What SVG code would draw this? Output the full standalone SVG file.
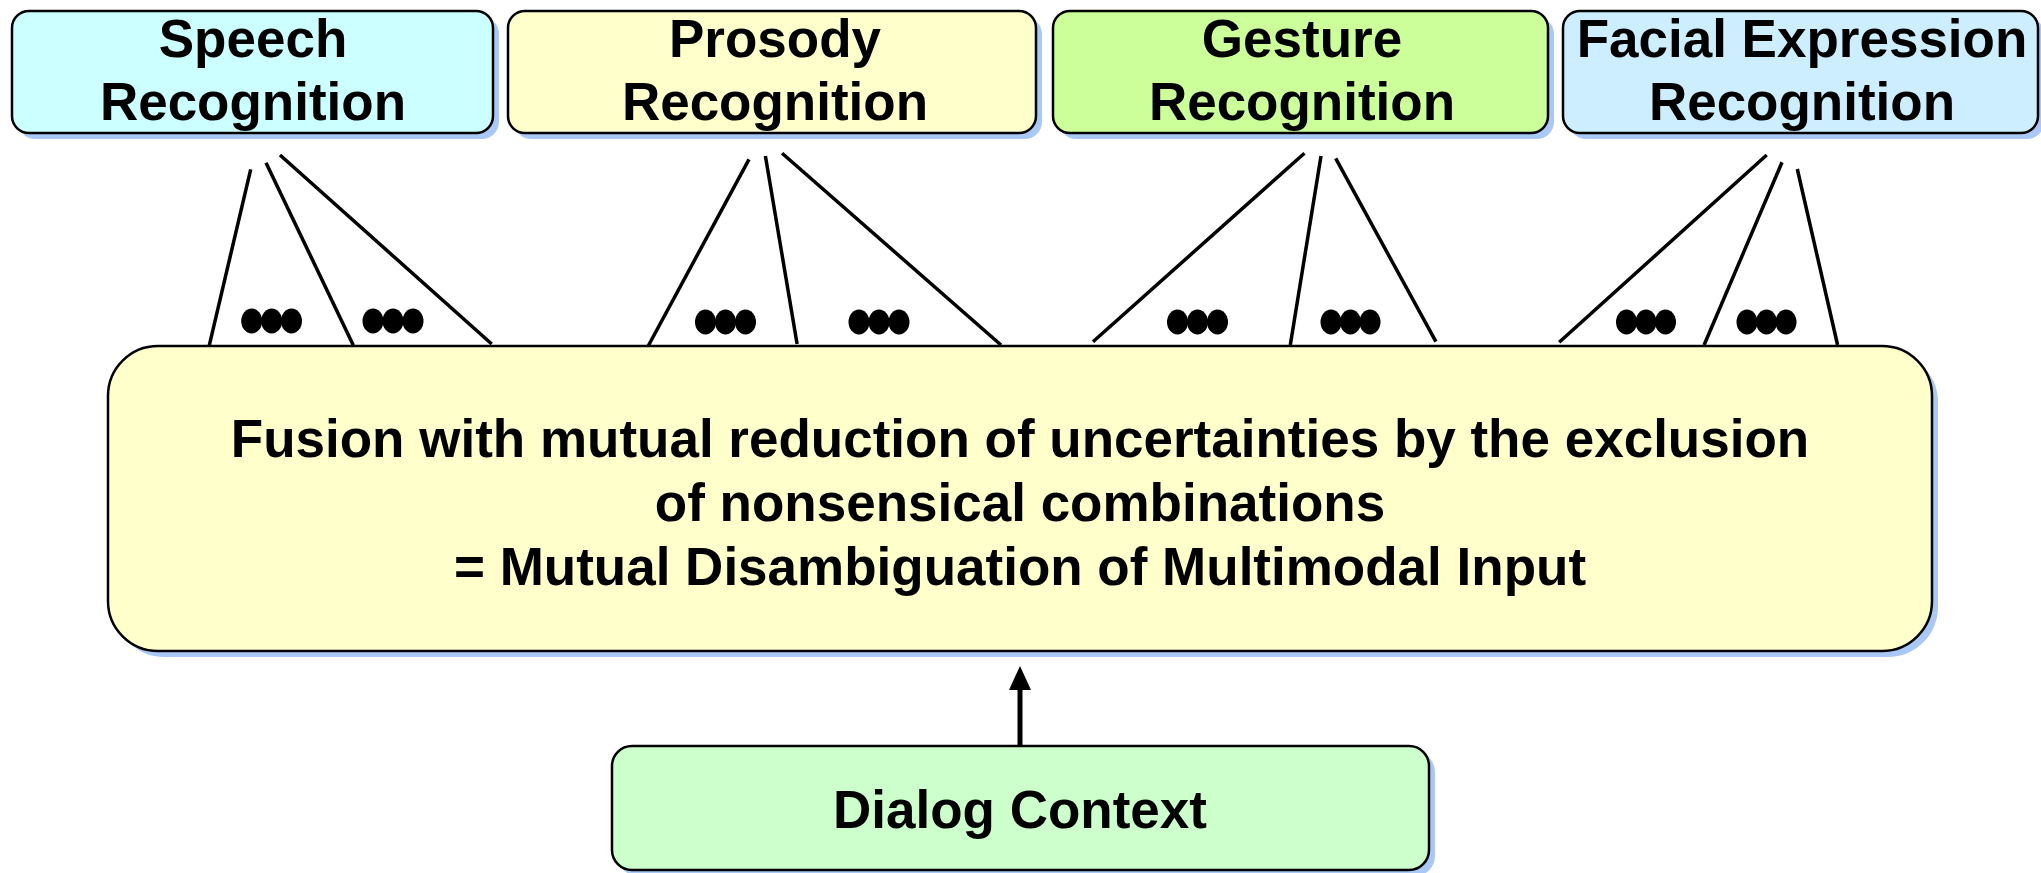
<svg xmlns="http://www.w3.org/2000/svg" width="2041" height="873" viewBox="0 0 2041 873">
<defs>
<style>
.box{stroke:#000;stroke-width:2.5}
.sh{fill:#a9c8f5}
.t{font-family:"Liberation Sans",Arial,sans-serif;font-weight:bold;font-size:53px;fill:#000;text-anchor:middle}
.fan{stroke:#000;stroke-width:3.5;fill:none}
.dot{fill:#000}
</style>
<marker id="ah" markerWidth="24" markerHeight="22" refX="1" refY="11" orient="auto" markerUnits="userSpaceOnUse" viewBox="0 0 24 22">
<path d="M0,0 L24,11 L0,22 Z" fill="#000"/>
</marker>
</defs>
<rect width="2041" height="873" fill="#fff"/>
<g id="speech">
<rect class="sh" x="18" y="17" width="481" height="122" rx="17"/>
<rect class="box" x="12" y="11" width="481" height="122" rx="17" fill="#ccffff"/>
<text class="t" x="253" y="57">Speech</text>
<text class="t" x="253" y="120">Recognition</text>
</g>
<g id="prosody">
<rect class="sh" x="514" y="17" width="528" height="122" rx="17"/>
<rect class="box" x="508" y="11" width="528" height="122" rx="17" fill="#ffffcc"/>
<text class="t" x="775" y="57">Prosody</text>
<text class="t" x="775" y="120">Recognition</text>
</g>
<g id="gesture">
<rect class="sh" x="1059" y="17" width="495" height="122" rx="17"/>
<rect class="box" x="1053" y="11" width="495" height="122" rx="17" fill="#ccff99"/>
<text class="t" x="1302" y="57">Gesture</text>
<text class="t" x="1302" y="120">Recognition</text>
</g>
<g id="facial">
<rect class="sh" x="1569" y="17" width="475" height="122" rx="17"/>
<rect class="box" x="1563" y="11" width="475" height="122" rx="17" fill="#cceeff"/>
<text class="t" x="1802" y="57">Facial Expression</text>
<text class="t" x="1802" y="120">Recognition</text>
</g>
<g id="fusion">
<rect class="sh" x="114" y="352" width="1824" height="305" rx="50"/>
<rect class="box" x="108" y="346" width="1824" height="305" rx="50" fill="#ffffcc"/>
<text class="t" x="1020" y="457">Fusion with mutual reduction of uncertainties by the exclusion</text>
<text class="t" x="1020" y="521">of nonsensical combinations</text>
<text class="t" x="1020" y="585">= Mutual Disambiguation of Multimodal Input</text>
</g>
<g id="dialog">
<rect class="sh" x="618" y="752" width="817" height="124" rx="20"/>
<rect class="box" x="612" y="746" width="817" height="124" rx="20" fill="#ccffcc"/>
<text class="t" x="1020" y="828">Dialog Context</text>
</g>
<g id="connectors">
<line class="fan" x1="250.7" y1="169.3" x2="209.3" y2="345.3"/>
<line class="fan" x1="266" y1="162.7" x2="353.3" y2="345.3"/>
<line class="fan" x1="280" y1="155" x2="491.7" y2="344"/>
<line class="fan" x1="749" y1="159.3" x2="648.2" y2="346"/>
<line class="fan" x1="765.4" y1="156" x2="797.1" y2="344"/>
<line class="fan" x1="782.1" y1="153.3" x2="1001" y2="345"/>
<line class="fan" x1="1304.4" y1="153.3" x2="1093" y2="341.7"/>
<line class="fan" x1="1321" y1="156" x2="1290.3" y2="345"/>
<line class="fan" x1="1335.7" y1="158.3" x2="1435.9" y2="341.7"/>
<line class="fan" x1="1766.7" y1="155" x2="1559.2" y2="342.3"/>
<line class="fan" x1="1782" y1="162.3" x2="1704.1" y2="345"/>
<line class="fan" x1="1797.3" y1="169" x2="1837.6" y2="345"/>
<g class="dot">
<ellipse cx="251.7" cy="321" rx="10.5" ry="12.5"/><ellipse cx="271.7" cy="321" rx="10.5" ry="12.5"/><ellipse cx="291.5" cy="321" rx="10.5" ry="12.5"/>
<ellipse cx="373" cy="321" rx="10.5" ry="12.5"/><ellipse cx="393" cy="321" rx="10.5" ry="12.5"/><ellipse cx="413" cy="321" rx="10.5" ry="12.5"/>
<ellipse cx="705.5" cy="322" rx="10.5" ry="12.5"/><ellipse cx="725.5" cy="322" rx="10.5" ry="12.5"/><ellipse cx="745.5" cy="322" rx="10.5" ry="12.5"/>
<ellipse cx="859" cy="322" rx="10.5" ry="12.5"/><ellipse cx="879" cy="322" rx="10.5" ry="12.5"/><ellipse cx="899" cy="322" rx="10.5" ry="12.5"/>
<ellipse cx="1177.5" cy="322" rx="10.5" ry="12.5"/><ellipse cx="1197.5" cy="322" rx="10.5" ry="12.5"/><ellipse cx="1217.5" cy="322" rx="10.5" ry="12.5"/>
<ellipse cx="1331" cy="322" rx="10.5" ry="12.5"/><ellipse cx="1350.5" cy="322" rx="10.5" ry="12.5"/><ellipse cx="1370" cy="322" rx="10.5" ry="12.5"/>
<ellipse cx="1626.5" cy="322" rx="10.5" ry="12.5"/><ellipse cx="1646" cy="322" rx="10.5" ry="12.5"/><ellipse cx="1665.5" cy="322" rx="10.5" ry="12.5"/>
<ellipse cx="1747" cy="322" rx="10.5" ry="12.5"/><ellipse cx="1766.5" cy="322" rx="10.5" ry="12.5"/><ellipse cx="1786" cy="322" rx="10.5" ry="12.5"/>
</g>
<line x1="1020" y1="746" x2="1020" y2="689" stroke="#000" stroke-width="5" marker-end="url(#ah)"/>
</g>
</svg>
